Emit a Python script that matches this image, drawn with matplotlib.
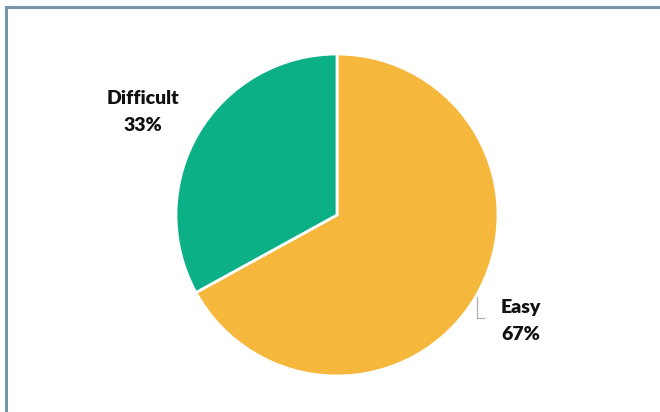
import matplotlib
matplotlib.use("Agg")
import matplotlib.pyplot as plt
from matplotlib.lines import Line2D

categories = ["Easy", "Difficult"]
shares = [67, 33]
colors = ["#F6B83C", "#0CB086"]

plt.rcParams['font.family'] = ['Lato', 'DejaVu Sans']

fig = plt.figure(figsize=(6.6, 4.12), dpi=100)
ax = fig.add_axes([0, 0, 1, 1])

ax.pie(shares, colors=colors, startangle=90, counterclock=False,
       center=(337, 197), radius=161, frame=True,
       wedgeprops=dict(edgecolor='white', linewidth=2))
ax.set_xlim(0, 660)
ax.set_ylim(0, 412)
ax.set_aspect('equal')
ax.axis('off')

label_pos = {"Easy": (521, 91), "Difficult": (143, 300)}
for cat, val in zip(categories, shares):
    x, y = label_pos[cat]
    ax.text(x, y, f"{cat}\n{val}%", ha='center', va='center',
            fontsize=14, fontweight='heavy', color='#111111',
            linespacing=1.65)

# leader line for the Easy label
ax.plot([477, 477, 484], [115, 94, 94], color='#b0b0b0', lw=0.9)

# frame edges
fig.add_artist(Line2D([6 / 660, 1], [1 - 7 / 412, 1 - 7 / 412],
                      transform=fig.transFigure, color='#7895AE', lw=2.2))
fig.add_artist(Line2D([6 / 660, 6 / 660], [0, 1 - 7 / 412],
                      transform=fig.transFigure, color='#7895AE', lw=2.2))

fig.savefig("out.png", dpi=100, facecolor='white')
